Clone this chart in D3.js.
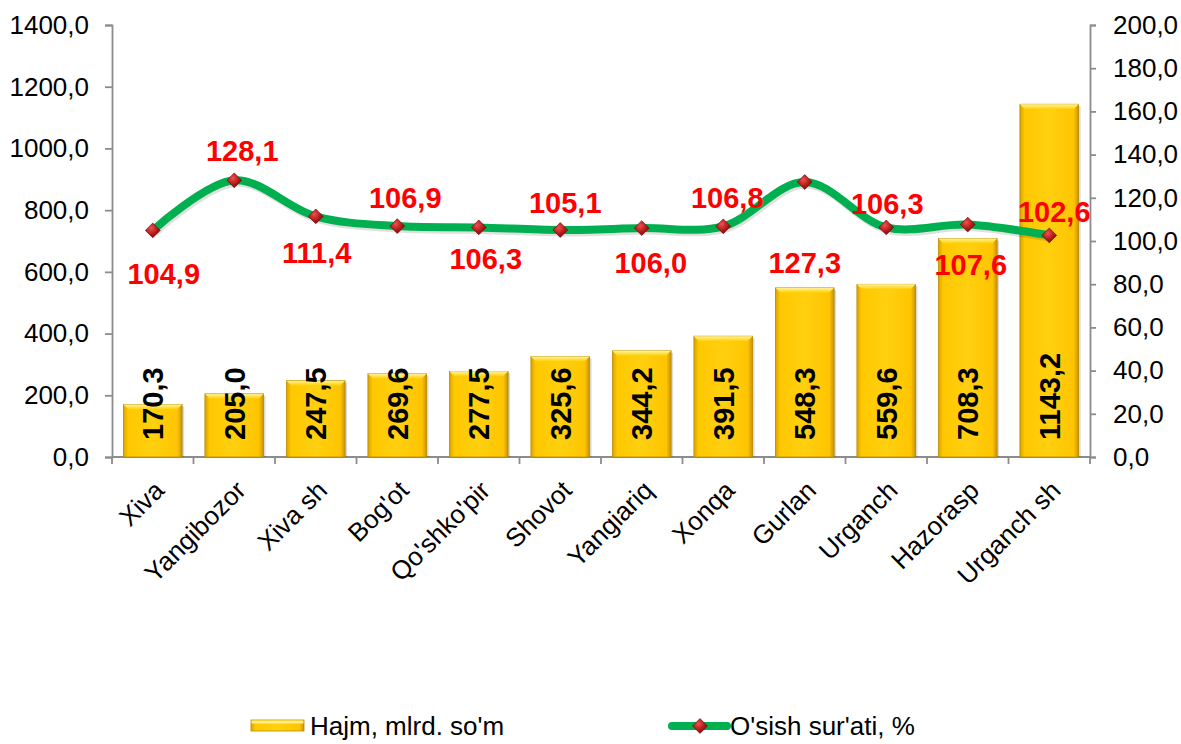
<!DOCTYPE html>
<html>
<head>
<meta charset="utf-8">
<script src="https://cdn.jsdelivr.net/npm/d3@7"></script>
<style>
  body { margin: 0; background: #fff; }
  svg { display: block; font-family: "Liberation Sans", Arial, sans-serif; }
</style>
</head>
<body>
<svg id="chart" width="1181" height="744"></svg>
<script>
const districts = ["Xiva", "Yangibozor", "Xiva sh", "Bog'ot", "Qo'shko'pir", "Shovot", "Yangiariq", "Xonqa", "Gurlan", "Urganch", "Hazorasp", "Urganch sh"];
const volume = [170.3, 205.0, 247.5, 269.6, 277.5, 325.6, 344.2, 391.5, 548.3, 559.6, 708.3, 1143.2];
const growth = [104.9, 128.1, 111.4, 106.9, 106.3, 105.1, 106.0, 106.8, 127.3, 106.3, 107.6, 102.6];
const leftTicks = [0, 200, 400, 600, 800, 1000, 1200, 1400];
const rightTicks = [0, 20, 40, 60, 80, 100, 120, 140, 160, 180, 200];
const seriesNames = ["Hajm, mlrd. so'm", "O'sish sur'ati, %"];

// where each growth label sits relative to its marker (the labels were hand placed)
const labelNudge = [[11, 43], [8, -30], [1, 36], [8, -29], [7, 31], [5, -27], [9, 35], [4, -29], [0, 81], [1, -24], [3, 40], [5, -24]];

const fmt = (v) => v.toFixed(1).replace(".", ",");

const svg = d3.select("#chart");
const plotLeft = 112, plotRight = 1090, plotTop = 25, plotBottom = 457;

const x = d3.scaleBand().domain(districts).range([plotLeft, plotRight]).paddingInner(0.28).paddingOuter(0.14);
const xBoundary = d3.scaleLinear().domain([0, districts.length]).range([plotLeft, plotRight]);
const yL = d3.scaleLinear().domain([0, 1400]).range([plotBottom, plotTop]);
const yR = d3.scaleLinear().domain([0, 200]).range([plotBottom, plotTop]);

const defs = svg.append("defs");
const barGrad = defs.append("linearGradient").attr("id", "barGrad").attr("x1", 0).attr("x2", 1).attr("y1", 0).attr("y2", 0);
barGrad.append("stop").attr("offset", "0").attr("stop-color", "#d9a300");
barGrad.append("stop").attr("offset", "0.08").attr("stop-color", "#ffc800");
barGrad.append("stop").attr("offset", "0.5").attr("stop-color", "#ffd010");
barGrad.append("stop").attr("offset", "0.92").attr("stop-color", "#ffc400");
barGrad.append("stop").attr("offset", "1").attr("stop-color", "#c79200");
const topGrad = defs.append("linearGradient").attr("id", "topGrad").attr("x1", 0).attr("x2", 0).attr("y1", 0).attr("y2", 1);
topGrad.append("stop").attr("offset", "0").attr("stop-color", "#fff3a0");
topGrad.append("stop").attr("offset", "1").attr("stop-color", "#ffd000");
const dGrad = defs.append("radialGradient").attr("id", "dGrad").attr("cx", "0.4").attr("cy", "0.35").attr("r", "0.7");
dGrad.append("stop").attr("offset", "0").attr("stop-color", "#f05050");
dGrad.append("stop").attr("offset", "0.6").attr("stop-color", "#b01818");
dGrad.append("stop").attr("offset", "1").attr("stop-color", "#7a0a0a");

// axes
const axisColor = "#8c8c8c";
const gL = svg.append("g").attr("transform", `translate(${plotLeft},0)`)
  .call(d3.axisLeft(yL).tickValues(leftTicks).tickSize(7).tickSizeOuter(7).tickPadding(16).tickFormat(fmt));
const gR = svg.append("g").attr("transform", `translate(${plotRight},0)`)
  .call(d3.axisRight(yR).tickValues(rightTicks).tickSize(6).tickSizeOuter(6).tickPadding(17).tickFormat(fmt));
[gL, gR].forEach((g) => {
  g.selectAll("path, line").attr("stroke", axisColor).attr("stroke-width", 1.8);
  g.selectAll("text").attr("font-size", 26).attr("fill", "#000").style("font-family", "'Liberation Sans', Arial, sans-serif");
});

// x axis
const gX = svg.append("g");
gX.append("line").attr("x1", plotLeft).attr("x2", plotRight).attr("y1", plotBottom).attr("y2", plotBottom)
  .attr("stroke", axisColor).attr("stroke-width", 1.8);
gX.selectAll("line.tick").data(d3.range(districts.length + 1)).join("line")
  .attr("class", "tick")
  .attr("x1", (i) => xBoundary(i)).attr("x2", (i) => xBoundary(i))
  .attr("y1", plotBottom).attr("y2", plotBottom + 7)
  .attr("stroke", axisColor).attr("stroke-width", 1.8);
gX.selectAll("text").data(districts).join("text")
  .attr("transform", (d) => `translate(${x(d) + x.bandwidth() / 2 + 13},${plotBottom + 35}) rotate(-45)`)
  .attr("text-anchor", "end")
  .attr("font-size", 26)
  .text((d) => d);

// bars
const bars = svg.append("g");
const barData = districts.map((d, i) => ({ name: d, value: volume[i] }));
bars.selectAll("rect.shadow").data(barData).join("rect")
  .attr("class", "shadow")
  .attr("x", (d) => x(d.name) + 2).attr("y", (d) => yL(d.value) + 2)
  .attr("width", x.bandwidth()).attr("height", (d) => plotBottom - yL(d.value) - 2)
  .attr("fill", "#000").attr("opacity", 0.15);
bars.selectAll("rect.bar").data(barData).join("rect")
  .attr("class", "bar")
  .attr("x", (d) => x(d.name)).attr("y", (d) => yL(d.value))
  .attr("width", x.bandwidth()).attr("height", (d) => plotBottom - yL(d.value))
  .attr("fill", "url(#barGrad)").attr("stroke", "#b88a00").attr("stroke-width", 0.8);
bars.selectAll("path.bevel").data(barData).join("path")
  .attr("class", "bevel")
  .attr("d", (d) => {
    const x0 = x(d.name), x1 = x0 + x.bandwidth(), y0 = yL(d.value);
    return `M${x0},${y0}L${x1},${y0}L${x1 - 5},${y0 + 5}L${x0 + 5},${y0 + 5}Z`;
  })
  .attr("fill", "url(#topGrad)");
bars.selectAll("text").data(barData).join("text")
  .attr("transform", (d) => `translate(${x(d.name) + x.bandwidth() / 2},${plotBottom - 17}) rotate(-90)`)
  .attr("dy", "0.36em")
  .attr("font-size", 29).attr("font-weight", "bold").attr("fill", "#000")
  .text((d) => fmt(d.value));

// line
const lineData = districts.map((d, i) => ({ name: d, value: growth[i], nudge: labelNudge[i] }));
const cx = (d) => x(d.name) + x.bandwidth() / 2;
const line = d3.line().x(cx).y((d) => yR(d.value)).curve(d3.curveCatmullRom.alpha(0.5));
svg.append("path").datum(lineData).attr("d", line)
  .attr("fill", "none").attr("stroke", "#000").attr("stroke-opacity", 0.12)
  .attr("stroke-width", 8).attr("transform", "translate(1.5,2.5)");
svg.append("path").datum(lineData).attr("d", line)
  .attr("fill", "none").attr("stroke", "#00b050").attr("stroke-width", 8).attr("stroke-linecap", "round");

const diamond = d3.symbol().type(d3.symbolDiamond2).size(140);
svg.append("g").selectAll("path").data(lineData).join("path")
  .attr("transform", (d) => `translate(${cx(d)},${yR(d.value)})`)
  .attr("d", diamond)
  .attr("fill", "url(#dGrad)").attr("stroke", "#6a0000").attr("stroke-width", 0.6);

svg.append("g").selectAll("text").data(lineData).join("text")
  .attr("x", (d) => cx(d) + d.nudge[0])
  .attr("y", (d) => yR(d.value) + d.nudge[1])
  .attr("dy", "0.36em")
  .attr("text-anchor", "middle")
  .attr("font-size", 29).attr("font-weight", "bold").attr("fill", "#ff0000")
  .text((d) => fmt(d.value));

// legend
const lg = svg.append("g");
lg.append("rect").attr("x", 251).attr("y", 720).attr("width", 53).attr("height", 11)
  .attr("fill", "url(#barGrad)").attr("stroke", "#b88a00").attr("stroke-width", 0.8);
lg.append("rect").attr("x", 251.5).attr("y", 720.5).attr("width", 52).attr("height", 3).attr("fill", "#fff080");
lg.append("text").attr("x", 310).attr("y", 726).attr("dy", "0.36em").attr("font-size", 26).text(seriesNames[0]);
lg.append("line").attr("x1", 672).attr("x2", 727).attr("y1", 726).attr("y2", 726)
  .attr("stroke", "#00b050").attr("stroke-width", 8).attr("stroke-linecap", "round");
lg.append("path").attr("transform", "translate(700,726)").attr("d", diamond)
  .attr("fill", "url(#dGrad)").attr("stroke", "#6a0000").attr("stroke-width", 0.6);
lg.append("text").attr("x", 730).attr("y", 726).attr("dy", "0.36em").attr("font-size", 26).text(seriesNames[1]);
</script>
</body>
</html>
